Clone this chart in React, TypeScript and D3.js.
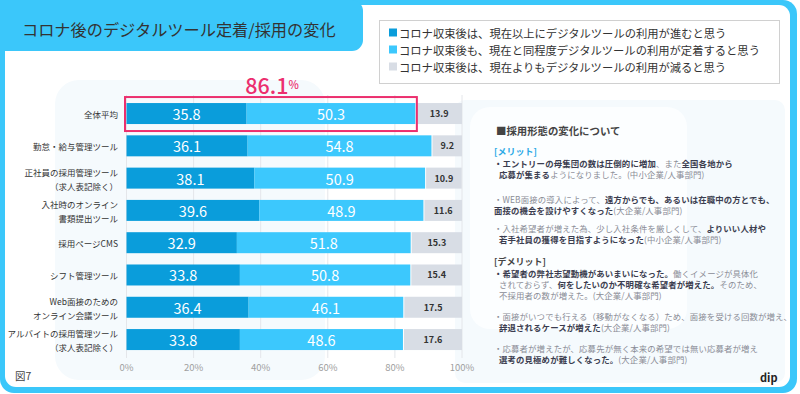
import React from 'react';
import * as d3 from 'd3';

// chart data
const categories = [
  '全体平均',
  '勤怠・給与管理ツール',
  '正社員の採用管理ツール\n（求人表記除く）',
  '入社時のオンライン\n書類提出ツール',
  '採用ページCMS',
  'シフト管理ツール',
  'Web面接のための\nオンライン会議ツール',
  'アルバイトの採用管理ツール\n（求人表記除く）',
];
const advance = [35.8, 36.1, 38.1, 39.6, 32.9, 33.8, 36.4, 33.8];
const sameLevel = [50.3, 54.8, 50.9, 48.9, 51.8, 50.8, 46.1, 48.6];
const decrease = [13.9, 9.2, 10.9, 11.6, 15.3, 15.4, 17.5, 17.6];
const seriesKeys = ['advance', 'sameLevel', 'decrease'];
const seriesNames = [
  'コロナ収束後は、現在以上にデジタルツールの利用が進むと思う',
  'コロナ収束後も、現在と同程度デジタルツールの利用が定着すると思う',
  'コロナ収束後は、現在よりもデジタルツールの利用が減ると思う',
];
const xTicks = [0, 20, 40, 60, 80, 100];

// comment panel: [text, bold]
const meritLines: [string, boolean][][] = [
  [['・エントリーの母集団の数は圧倒的に増加', true], ['、また', false], ['全国各地から', true]],
  [['応募が集まる', true], ['ようになりました。(中小企業/人事部門)', false]],
  [['・WEB面接の導入によって、', false], ['遠方からでも、あるいは在職中の方とでも、', true]],
  [['面接の機会を設けやすくなった', true], ['(大企業/人事部門)', false]],
  [['・入社希望者が増えた為、少し入社条件を厳しくして、', false], ['よりいい人材や', true]],
  [['若手社員の獲得を目指すようになった', true], ['(中小企業/人事部門)', false]],
];
const demeritLines: [string, boolean][][] = [
  [['・希望者の弊社志望動機があいまいになった。', true], ['働くイメージが具体化', false]],
  [['されておらず、', false], ['何をしたいのか不明確な希望者が増えた。', true], ['そのため、', false]],
  [['不採用者の数が増えた。(大企業/人事部門)', false]],
  [['・面接がいつでも行える（移動がなくなる）ため、面接を受ける回数が増え、', false]],
  [['辞退されるケースが増えた', true], ['(大企業/人事部門)', false]],
  [['・応募者が増えたが、応募先が無く本来の希望では無い応募者が増え', false]],
  [['選考の見極めが難しくなった。', true], ['(大企業/人事部門)', false]],
];
const meritY = [163, 174, 199, 209.5, 228, 238.5];
const meritIndent = [0, 5, 0, 0, 0, 5];
const demeritY = [273, 284, 294.5, 316, 327, 348, 358.5];
const demeritIndent = [0, 5, 5, 0, 5, 0, 5];

const W = 800;
const H = 394;
const FONT = '"Noto Sans CJK JP", "Noto Sans", sans-serif';
const colors = ['#0a9ddb', '#3cc8fd', '#d8dde5'];
const frame = '#3bc7fa';

const App = () => {
  const rows = categories.map((c, i) => ({
    cat: c,
    advance: advance[i],
    sameLevel: sameLevel[i],
    decrease: decrease[i],
  }));
  const stacked = d3.stack<any>().keys(seriesKeys)(rows);

  const x = d3.scaleLinear().domain([0, 100]).range([126.5, 462]);
  const y = d3
    .scaleBand()
    .domain(categories)
    .range([97.4, 355.7])
    .paddingInner(0.35)
    .paddingOuter(0.175);
  const bw = y.bandwidth();

  const first = categories[0];
  const total = d3.format('.1f')(advance[0] + sameLevel[0]);

  const renderLine = (parts: [string, boolean][], xx: number, yy: number, key: string) => (
    <text key={key} x={xx} y={yy} fontSize={8.4} dominantBaseline="central" letterSpacing={0.15}>
      {parts.map(([t, b], j) => (
        <tspan key={j} fontWeight={b ? 700 : 400} fill={b ? '#3b3d4f' : '#8a8c96'}>
          {t}
        </tspan>
      ))}
    </text>
  );

  return (
    <svg width={W} height={H} style={{ position: 'absolute', left: 0, top: 0, fontFamily: FONT }}>
      <rect width={W} height={H} fill="#fff" />
      {/* frame */}
      <rect x={0} y={0} width={797} height={393} rx={14} fill={frame} />
      <rect x={5} y={5} width={785} height={382} rx={11} fill="#fff" />
      <rect x={0} y={0} width={363} height={51} rx={11} fill={frame} />
      <rect x={0} y={0} width={40} height={51} fill={frame} />
      <text x={22} y={29} fontSize={16.2} fill="#333" dominantBaseline="central">
        コロナ後のデジタルツール定着/採用の変化
      </text>

      {/* faint background shapes */}
      <rect x={55} y={80} width={270} height={300} rx={24} fill="#f5fafd" />
      <rect x={455} y={100} width={330} height={283} rx={10} fill="#f5fafd" />
      <rect x={470} y={107} width={217} height={222} rx={20} fill="#fcfeff" />

      {/* legend */}
      <rect x={379.5} y={20.5} width={400} height={63} fill="#fff" stroke="#d0d0d0" />
      {seriesNames.map((n, i) => (
        <g key={n} transform={`translate(389,${33 + i * 17})`}>
          <rect x={0} y={-4.5} width={8} height={8} fill={colors[i]} />
          <text x={10} y={0} fontSize={11.3} fill="#333" dominantBaseline="central">
            {n}
          </text>
        </g>
      ))}

      {/* grid */}
      {xTicks.map(t => (
        <g key={t}>
          <line x1={x(t)} x2={x(t)} y1={95} y2={358} stroke="#e4e6ea" strokeWidth={1} />
          <text x={x(t)} y={367} fontSize={9.5} fill="#a0a0a0" textAnchor="middle" dominantBaseline="central">
            {t}%
          </text>
        </g>
      ))}

      {/* bars */}
      {stacked.map((s, si) => (
        <g key={s.key}>
          {s.map((d, i) => {
            const cat = categories[i];
            const x0 = x(d[0]) + (si === 2 ? 1 : 0);
            const x1 = Math.min(x(d[1]), x(100));
            const v = d[1] - d[0];
            return (
              <g key={cat}>
                <rect x={x0} y={y(cat)} width={x1 - x0} height={bw} fill={colors[si]} />
                <text
                  x={(x0 + x1) / 2}
                  y={(y(cat) as number) + bw / 2}
                  fontSize={si === 2 ? 9 : 14.5}
                  fontWeight={si === 2 ? 700 : 400}
                  fill={si === 2 ? '#333' : '#fff'}
                  textAnchor="middle"
                  dominantBaseline="central"
                >
                  {d3.format('.1f')(v)}
                </text>
              </g>
            );
          })}
        </g>
      ))}

      {/* category labels */}
      {categories.map(c => {
        const lines = c.split('\n');
        const cy = (y(c) as number) + bw / 2;
        return (
          <text key={c} fontSize={8.5} fill="#333" textAnchor="end" dominantBaseline="central">
            {lines.map((l, j) => (
              <tspan key={j} x={118} y={cy + (j - (lines.length - 1) / 2) * 14 + 0.5}>
                {l}
              </tspan>
            ))}
          </text>
        );
      })}

      {/* highlight */}
      <rect
        x={x(0) - 1.5}
        y={(y(first) as number) - 6}
        width={x(advance[0] + sameLevel[0]) - x(0) + 3}
        height={bw + 13}
        fill="none"
        stroke="#ec2f6e"
        strokeWidth={2}
      />
      <text x={272} y={84} fontSize={21.5} fontWeight={500} fill="#ec2f6e" textAnchor="middle" dominantBaseline="central">
        {total}
        <tspan fontSize={11}>%</tspan>
      </text>

      {/* comment panel */}
      <text x={496} y={130} fontSize={10.4} fontWeight={700} fill="#444" dominantBaseline="central">
        ■採用形態の変化について
      </text>
      <text x={494} y={151} fontSize={9} fontWeight={700} fill="#2aa9e6" dominantBaseline="central">
        [メリット]
      </text>
      {meritLines.map((l, i) => renderLine(l, 494 + meritIndent[i], meritY[i], 'm' + i))}
      <text x={494} y={261} fontSize={9} fontWeight={700} fill="#444" dominantBaseline="central">
        [デメリット]
      </text>
      {demeritLines.map((l, i) => renderLine(l, 494 + demeritIndent[i], demeritY[i], 'd' + i))}

      <text x={15} y={375} fontSize={10.5} fill="#444" dominantBaseline="central">
        図7
      </text>
      <text x={760} y={377} fontSize={11} fontWeight={700} fill="#222" dominantBaseline="central">
        dip
      </text>
    </svg>
  );
};

export default App;
